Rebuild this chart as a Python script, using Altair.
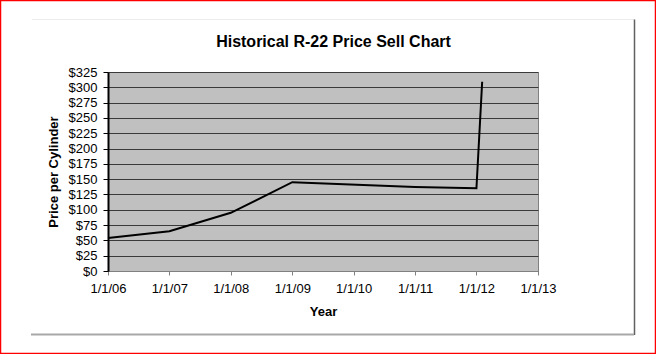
import altair as alt
import pandas as pd

# Data
dates = ["2006-01-01", "2007-01-01", "2008-01-01", "2009-01-01",
         "2011-01-01", "2012-01-01", "2012-02-04"]
prices = [54, 65, 95, 145, 137, 135, 309]

y_ticks = list(range(0, 326, 25))
x_years = list(range(2006, 2014))
chart_title = "Historical R-22 Price Sell Chart"

df = pd.DataFrame({"date": dates, "price": prices})

FONT = "Liberation Sans"
W, H = 430, 199
PL, PT = 108, 72

x_enc = alt.X(
    "date:T",
    scale=alt.Scale(type="utc",
                    domain=[alt.DateTime(year=2006, month=1, date=1, utc=True),
                            alt.DateTime(year=2013, month=1, date=1, utc=True)]),
    axis=alt.Axis(
        values=[alt.DateTime(year=y, month=1, date=1, utc=True) for y in x_years],
        labelExpr="utcFormat(datum.value, '%-m/%-d/%y')",
        title="Year", titleFont=FONT, titleFontSize=13, titleFontWeight="bold",
        titleColor="black", titleY=40, titleBaseline="middle",
        labelFont=FONT, labelFontSize=13, labelColor="black",
        labelPadding=7, tickSize=4, tickColor="#808080",
        domainColor="#808080", domainWidth=1, grid=False, labelFlush=False,
        labelOverlap=False,
    ),
)

y_enc = alt.Y(
    "price:Q",
    scale=alt.Scale(domain=[0, 325], nice=False),
    axis=alt.Axis(
        values=y_ticks, format="$.0f",
        title="Price per Cylinder", titleFont=FONT, titleFontSize=13,
        titleFontWeight="bold", titleColor="black",
        titleX=-55, titleY=H / 2, titleBaseline="middle", titleAngle=270,
        labelFont=FONT, labelFontSize=13, labelColor="black",
        labelPadding=6, tickSize=5, tickColor="black", tickWidth=1,
        domainColor="black", domainWidth=2,
        grid=True, gridColor="#3a3a3a", gridWidth=1, labelOverlap=False,
    ),
)

line = alt.Chart(df).mark_line(color="black", strokeWidth=2).encode(x=x_enc, y=y_enc)

deco_df = pd.DataFrame({"a": [0]})

red_border = alt.Chart(deco_df).mark_rect(
    filled=False, stroke="red", strokeWidth=1.5
).encode(
    x=alt.value(0.5 - PL), x2=alt.value(655.5 - PL),
    y=alt.value(0.5 - PT), y2=alt.value(353.5 - PT),
)

top_rule = alt.Chart(deco_df).mark_rule(color="#ececec", strokeWidth=1).encode(
    x=alt.value(32 - PL), x2=alt.value(634 - PL), y=alt.value(19.5 - PT)
)
right_rule = alt.Chart(deco_df).mark_rule(color="#606060", strokeWidth=1.5).encode(
    x=alt.value(634.5 - PL), y=alt.value(19.5 - PT), y2=alt.value(335 - PT)
)
bottom_rule = alt.Chart(deco_df).mark_rule(color="#a8a8a8", strokeWidth=2).encode(
    x=alt.value(31 - PL), x2=alt.value(634 - PL), y=alt.value(334.5 - PT)
)

title_text = alt.Chart(deco_df).mark_text(
    font=FONT, fontSize=16, fontWeight="bold", color="black",
    align="center", baseline="middle",
).encode(
    x=alt.value(333.5 - PL), y=alt.value(42 - PT), text=alt.value(chart_title)
)

chart = alt.layer(red_border, top_rule, right_rule, bottom_rule, title_text, line).properties(
    width=W, height=H,
    autosize=alt.AutoSizeParams(type="none"),
    padding={"left": PL, "top": PT, "right": 656 - PL - W, "bottom": 354 - PT - H},
    background="white",
).configure_view(
    fill="#C0C0C0", stroke="#808080", strokeWidth=1
)

chart.save("out.html", embed_options={"renderer": "svg", "actions": False})
